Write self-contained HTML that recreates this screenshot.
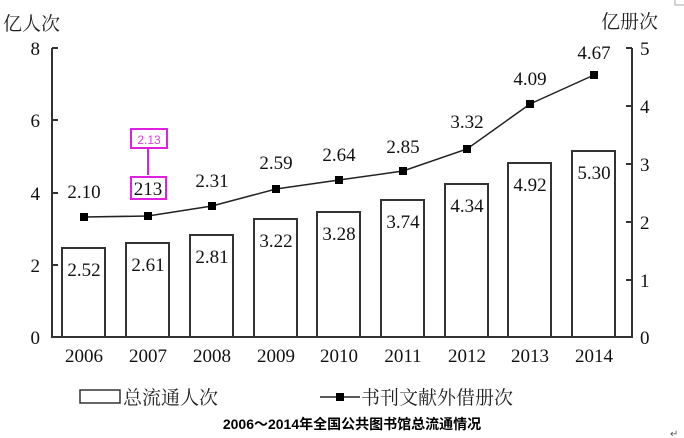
<!DOCTYPE html>
<html><head><meta charset="utf-8"><style>
body{margin:0;background:#fff}
svg{display:block}
.s{font-family:"Liberation Serif","Noto Serif CJK SC",serif;font-size:19px;fill:#111}
.c{font-family:"Liberation Serif","Noto Serif CJK SC",serif;font-size:19px;fill:#222}
</style></head><body>
<svg width="684" height="438" viewBox="0 0 684 438" xmlns="http://www.w3.org/2000/svg">
<text x="3" y="30" class="c">亿人次</text>
<text x="601" y="28" class="c">亿册次</text>
<g stroke="#333" stroke-width="2" fill="none">
<path d="M52 48V337H632V48"/>
<path d="M52 48h6M52 120h6M52 193h6M52 265h6"/>
<path d="M632 48h-6M632 106h-6M632 164h-6M632 222h-6M632 280h-6"/>
</g>
<g class="s" text-anchor="end">
<text x="40" y="55">8</text><text x="40" y="127">6</text><text x="40" y="200">4</text><text x="40" y="272">2</text><text x="40" y="344">0</text>
</g>
<g class="s">
<text x="640" y="55">5</text><text x="640" y="113">4</text><text x="640" y="171">3</text><text x="640" y="229">2</text><text x="640" y="287">1</text><text x="640" y="344">0</text>
</g>
<g fill="#fff" stroke="#333" stroke-width="2">
<rect x="62" y="248" width="43" height="89"/>
<rect x="126" y="243" width="43" height="94"/>
<rect x="190" y="235" width="43" height="102"/>
<rect x="254" y="219" width="43" height="118"/>
<rect x="317" y="212" width="43" height="125"/>
<rect x="381" y="200" width="43" height="137"/>
<rect x="445" y="184" width="43" height="153"/>
<rect x="508" y="163" width="43" height="174"/>
<rect x="572" y="151" width="43" height="186"/>
</g>
<g class="s" text-anchor="middle">
<text x="84" y="276">2.52</text><text x="148" y="271">2.61</text><text x="212" y="263">2.81</text>
<text x="276" y="247">3.22</text><text x="339" y="240">3.28</text><text x="403" y="228">3.74</text>
<text x="467" y="212">4.34</text><text x="530" y="191">4.92</text><text x="594" y="179">5.30</text>
</g>
<polyline points="84,217 148,216 212,206 276,189 339,180 403,171 467,149 530,104 594,75" fill="none" stroke="#222" stroke-width="1.5"/>
<g fill="#000">
<rect x="80" y="213" width="8" height="8"/><rect x="144" y="212" width="8" height="8"/><rect x="208" y="202" width="8" height="8"/>
<rect x="272" y="185" width="8" height="8"/><rect x="335" y="176" width="8" height="8"/><rect x="399" y="167" width="8" height="8"/>
<rect x="463" y="145" width="8" height="8"/><rect x="526" y="100" width="8" height="8"/><rect x="590" y="71" width="8" height="8"/>
</g>
<g class="s" text-anchor="middle">
<text x="84" y="198">2.10</text><text x="212" y="187">2.31</text><text x="276" y="169">2.59</text>
<text x="339" y="161">2.64</text><text x="403" y="153">2.85</text><text x="467" y="128">3.32</text>
<text x="530" y="85">4.09</text><text x="594" y="59">4.67</text>
</g>
<g stroke="#e020e0" stroke-width="2" fill="#fff">
<rect x="131" y="129" width="36" height="19"/>
<path d="M148 148V175"/>
<rect x="131" y="177" width="35" height="22"/>
</g>
<text x="149" y="144" text-anchor="middle" font-family="Liberation Sans,sans-serif" font-size="12" fill="#e040e0">2.13</text>
<text x="148" y="195" text-anchor="middle" class="s">213</text>
<g class="s" text-anchor="middle">
<text x="84" y="362">2006</text><text x="148" y="362">2007</text><text x="212" y="362">2008</text>
<text x="276" y="362">2009</text><text x="339" y="362">2010</text><text x="403" y="362">2011</text>
<text x="467" y="362">2012</text><text x="530" y="362">2013</text><text x="594" y="362">2014</text>
</g>
<rect x="80" y="390" width="40" height="13" fill="#fff" stroke="#333" stroke-width="1.5"/>
<text x="123" y="404" class="c">总流通人次</text>
<path d="M320 397H360" stroke="#222" stroke-width="1.5"/>
<rect x="336" y="393" width="8" height="8"/>
<text x="361" y="404" class="c">书刊文献外借册次</text>
<text x="352" y="429" text-anchor="middle" font-family="Liberation Sans,'Noto Sans CJK SC',sans-serif" font-weight="bold" font-size="14" fill="#000">2006～2014年全国公共图书馆总流通情况</text>
<path d="M675 0V5H684" stroke="#aaa" fill="none"/>
<text x="670" y="437" font-size="10" fill="#555" font-family="DejaVu Sans,sans-serif">↵</text>
</svg>
</body></html>
